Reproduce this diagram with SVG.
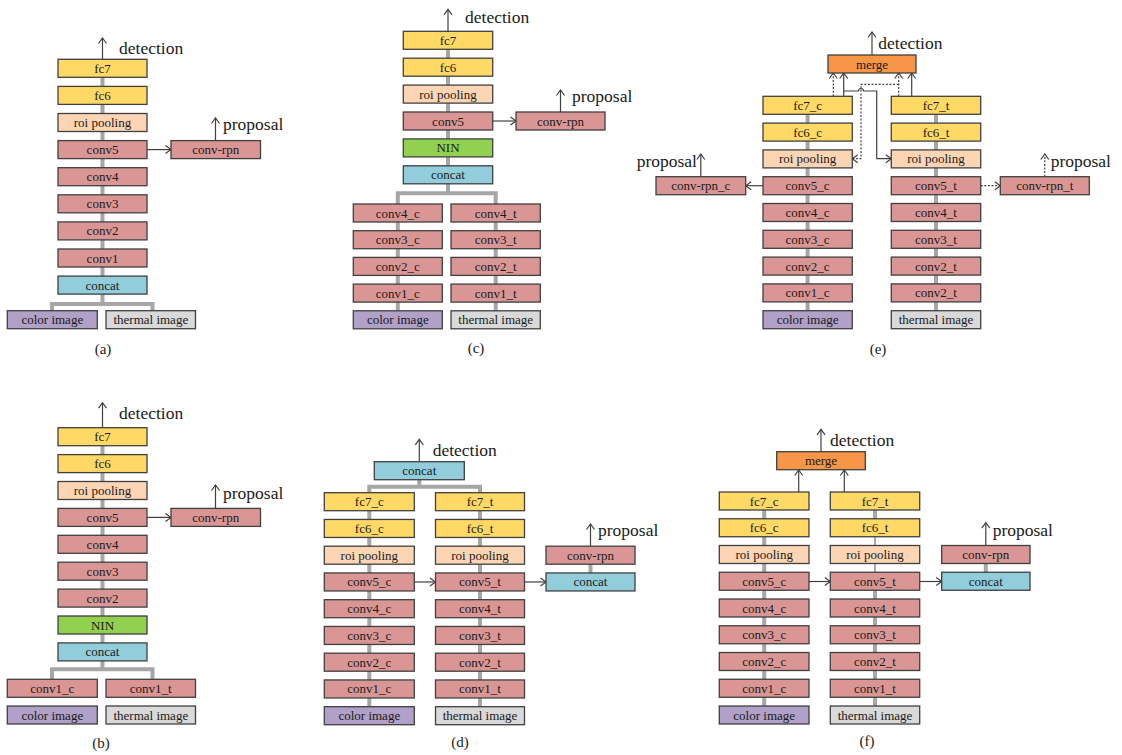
<svg xmlns="http://www.w3.org/2000/svg" width="1122" height="755" viewBox="0 0 1122 755" font-family="'Liberation Serif', 'DejaVu Serif', serif">
  <style>
    .box{stroke:#404040;stroke-width:1.3}
    .fc{fill:#FFD966}
    .roi{fill:#FCD5B4}
    .conv{fill:#DA9694}
    .cat{fill:#92CDDC}
    .nin{fill:#92D050}
    .merge{fill:#F79646}
    .col{fill:#B1A0C7}
    .thr{fill:#D9D9D9}
    text{font-family:'Liberation Serif','DejaVu Serif',serif;fill:#1a1a1a}
    .lbl{font-size:13px;text-anchor:middle}
    .big{font-size:17.5px}
    .cap{font-size:15px;text-anchor:middle}
    .trunk{stroke:#A6A6A6;stroke-width:4;fill:none}
    .thin{stroke:#555;stroke-width:1;fill:none}
    .arr{stroke:#404040;stroke-width:1.2;fill:none;marker-end:url(#ah)}
    .dot{stroke-dasharray:2 1.6}
  </style>
  <defs>
    <marker id="ah" viewBox="0 0 10 10" refX="8.5" refY="5" markerWidth="10" markerHeight="10" orient="auto" markerUnits="userSpaceOnUse">
      <path d="M3,1 L8.5,5 L3,9" fill="none" stroke="#404040" stroke-width="1.2"/>
    </marker>
  </defs>
  <rect width="1122" height="755" fill="#ffffff"/>

  <!-- connectors: gray data trunks and dark arrows -->
  <g id="connectors">
    <!-- (a) -->
    <path class="trunk" d="M102.5,68 V304 M52,311 V304 H152.5 V311"/>
    <path class="arr" d="M147,149.6 H171"/>
    <path class="arr" d="M102.5,59.3 V38"/>
    <path class="arr" d="M215.5,140.6 V118"/>
    <!-- (b) -->
    <path class="trunk" d="M102.5,436 V669.3 M52,679.3 V669.3 H152.5 V679.3"/>
    <path class="arr" d="M147,517.4 H171"/>
    <path class="arr" d="M102.5,427.7 V402.7"/>
    <path class="arr" d="M215.5,508.4 V485"/>
    <!-- (c) -->
    <path class="trunk" d="M448,40 V193.3 M397.8,315 V193.3 H495.7 V315"/>
    <path class="arr" d="M492.7,121 H516"/>
    <path class="arr" d="M448,31.3 V9.3"/>
    <path class="arr" d="M560.5,112 V90"/>
    <!-- (d) -->
    <path class="trunk" d="M419.3,470 V486.7 M369.3,715 V486.7 H480 V715"/>
    <path class="trunk" d="M590.5,555 V582"/>
    <path class="arr" d="M414.3,582 H435.5"/>
    <path class="arr" d="M524.5,582 H546"/>
    <path class="arr" d="M419.3,461.7 V439.3"/>
    <path class="arr" d="M590.5,546.2 V524"/>
    <!-- (e) -->
    <path class="trunk" d="M807.6,105 V320 M936,105 V320"/>
    <path class="arr" d="M763,185.7 H745.7"/>
    <path class="arr dot" d="M980.7,185.7 H1000.3"/>
    <path class="arr" d="M872,55 V32"/>
    <path class="arr" d="M700.8,176.7 V154"/>
    <path class="arr dot" d="M1044.8,176.7 V154"/>
    <path class="arr" d="M843.7,96.3 V73"/>
    <path class="arr dot" d="M833.3,96.3 V73"/>
    <path class="arr" d="M911.7,96.3 V73"/>
    <path class="arr dot" d="M898.7,96.3 V73"/>
    <path class="arr" d="M843.7,91 H858.5 A2.5,2.5 0 0 1 863.5,91 H876.7 V158.7 H891.3"/>
    <path class="arr dot" d="M898.7,84.3 H861 V158.7 H852.3"/>
    <!-- (f) -->
    <path class="trunk" d="M764.2,501 V715 M875,501 V528 M875,581 V715"/>
    <path class="thin" d="M875,528 V581"/>
    <path class="trunk" d="M985.8,555 V581"/>
    <path class="arr" d="M809,581.5 H830.3"/>
    <path class="arr" d="M919.7,581.5 H941.7"/>
    <path class="arr" d="M798.7,492 V470"/>
    <path class="arr" d="M844.3,492 V470"/>
    <path class="arr" d="M821,451.7 V429.3"/>
    <path class="arr" d="M985.8,545.5 V522.7"/>
  </g>

  <!-- (a) single-stream network fused at input -->
  <g id="a-fc7"><rect class="box fc" x="58" y="59.3" width="89" height="18"/><text class="lbl" x="102.5" y="72.8">fc7</text></g>
  <g id="a-fc6"><rect class="box fc" x="58" y="86.4" width="89" height="18"/><text class="lbl" x="102.5" y="99.9">fc6</text></g>
  <g id="a-roi"><rect class="box roi" x="58" y="113.5" width="89" height="18"/><text class="lbl" x="102.5" y="127">roi pooling</text></g>
  <g id="a-conv5"><rect class="box conv" x="58" y="140.6" width="89" height="18"/><text class="lbl" x="102.5" y="154.1">conv5</text></g>
  <g id="a-conv4"><rect class="box conv" x="58" y="167.7" width="89" height="18"/><text class="lbl" x="102.5" y="181.2">conv4</text></g>
  <g id="a-conv3"><rect class="box conv" x="58" y="194.8" width="89" height="18"/><text class="lbl" x="102.5" y="208.3">conv3</text></g>
  <g id="a-conv2"><rect class="box conv" x="58" y="221.9" width="89" height="18"/><text class="lbl" x="102.5" y="235.4">conv2</text></g>
  <g id="a-conv1"><rect class="box conv" x="58" y="249" width="89" height="18"/><text class="lbl" x="102.5" y="262.5">conv1</text></g>
  <g id="a-concat"><rect class="box cat" x="58" y="276.1" width="89" height="18"/><text class="lbl" x="102.5" y="289.6">concat</text></g>
  <g id="a-color"><rect class="box col" x="7.3" y="310.7" width="90" height="18"/><text class="lbl" x="52.3" y="324.2">color image</text></g>
  <g id="a-thermal"><rect class="box thr" x="106" y="310.7" width="89.5" height="18"/><text class="lbl" x="150.8" y="324.2">thermal image</text></g>
  <g id="a-rpn"><rect class="box conv" x="171" y="140.6" width="89.5" height="18"/><text class="lbl" x="215.7" y="154.1">conv-rpn</text></g>
  <g id="a-labels"><text class="big" x="119" y="54">detection</text><text class="big" x="223" y="130">proposal</text><text class="cap" x="103" y="354">(a)</text></g>

  <!-- (b) fusion after conv1 -->
  <g id="b-fc7"><rect class="box fc" x="58" y="427.7" width="89" height="18"/><text class="lbl" x="102.5" y="441.2">fc7</text></g>
  <g id="b-fc6"><rect class="box fc" x="58" y="454.6" width="89" height="18"/><text class="lbl" x="102.5" y="468.1">fc6</text></g>
  <g id="b-roi"><rect class="box roi" x="58" y="481.5" width="89" height="18"/><text class="lbl" x="102.5" y="495">roi pooling</text></g>
  <g id="b-conv5"><rect class="box conv" x="58" y="508.4" width="89" height="18"/><text class="lbl" x="102.5" y="521.9">conv5</text></g>
  <g id="b-conv4"><rect class="box conv" x="58" y="535.3" width="89" height="18"/><text class="lbl" x="102.5" y="548.8">conv4</text></g>
  <g id="b-conv3"><rect class="box conv" x="58" y="562.2" width="89" height="18"/><text class="lbl" x="102.5" y="575.7">conv3</text></g>
  <g id="b-conv2"><rect class="box conv" x="58" y="589.1" width="89" height="18"/><text class="lbl" x="102.5" y="602.6">conv2</text></g>
  <g id="b-nin"><rect class="box nin" x="58" y="616" width="89" height="18"/><text class="lbl" x="102.5" y="629.5">NIN</text></g>
  <g id="b-concat"><rect class="box cat" x="58" y="642.9" width="89" height="18"/><text class="lbl" x="102.5" y="656.4">concat</text></g>
  <g id="b-conv1c"><rect class="box conv" x="7.3" y="679.3" width="90" height="18"/><text class="lbl" x="52.3" y="692.8">conv1_c</text></g>
  <g id="b-conv1t"><rect class="box conv" x="106" y="679.3" width="89.5" height="18"/><text class="lbl" x="150.8" y="692.8">conv1_t</text></g>
  <g id="b-color"><rect class="box col" x="7.3" y="706" width="90" height="18"/><text class="lbl" x="52.3" y="719.5">color image</text></g>
  <g id="b-thermal"><rect class="box thr" x="106" y="706" width="89.5" height="18"/><text class="lbl" x="150.8" y="719.5">thermal image</text></g>
  <g id="b-rpn"><rect class="box conv" x="171" y="508.4" width="89.5" height="18"/><text class="lbl" x="215.7" y="521.9">conv-rpn</text></g>
  <g id="b-labels"><text class="big" x="119" y="419">detection</text><text class="big" x="223" y="499.3">proposal</text><text class="cap" x="101" y="747.5">(b)</text></g>

  <!-- (c) fusion after conv4 -->
  <g id="c-fc7"><rect class="box fc" x="403.3" y="31.3" width="89.4" height="18"/><text class="lbl" x="448" y="44.8">fc7</text></g>
  <g id="c-fc6"><rect class="box fc" x="403.3" y="58.2" width="89.4" height="18"/><text class="lbl" x="448" y="71.7">fc6</text></g>
  <g id="c-roi"><rect class="box roi" x="403.3" y="85.1" width="89.4" height="18"/><text class="lbl" x="448" y="98.6">roi pooling</text></g>
  <g id="c-conv5"><rect class="box conv" x="403.3" y="112" width="89.4" height="18"/><text class="lbl" x="448" y="125.5">conv5</text></g>
  <g id="c-nin"><rect class="box nin" x="403.3" y="138.9" width="89.4" height="18"/><text class="lbl" x="448" y="152.4">NIN</text></g>
  <g id="c-concat"><rect class="box cat" x="403.3" y="165.8" width="89.4" height="18"/><text class="lbl" x="448" y="179.3">concat</text></g>
  <g id="c-conv4c"><rect class="box conv" x="353.3" y="204" width="89" height="18"/><text class="lbl" x="397.8" y="217.5">conv4_c</text></g>
  <g id="c-conv3c"><rect class="box conv" x="353.3" y="230.7" width="89" height="18"/><text class="lbl" x="397.8" y="244.2">conv3_c</text></g>
  <g id="c-conv2c"><rect class="box conv" x="353.3" y="257.4" width="89" height="18"/><text class="lbl" x="397.8" y="270.9">conv2_c</text></g>
  <g id="c-conv1c"><rect class="box conv" x="353.3" y="284.1" width="89" height="18"/><text class="lbl" x="397.8" y="297.6">conv1_c</text></g>
  <g id="c-color"><rect class="box col" x="353.3" y="310.8" width="89" height="18"/><text class="lbl" x="397.8" y="324.3">color image</text></g>
  <g id="c-conv4t"><rect class="box conv" x="451" y="204" width="89.3" height="18"/><text class="lbl" x="495.7" y="217.5">conv4_t</text></g>
  <g id="c-conv3t"><rect class="box conv" x="451" y="230.7" width="89.3" height="18"/><text class="lbl" x="495.7" y="244.2">conv3_t</text></g>
  <g id="c-conv2t"><rect class="box conv" x="451" y="257.4" width="89.3" height="18"/><text class="lbl" x="495.7" y="270.9">conv2_t</text></g>
  <g id="c-conv1t"><rect class="box conv" x="451" y="284.1" width="89.3" height="18"/><text class="lbl" x="495.7" y="297.6">conv1_t</text></g>
  <g id="c-thermal"><rect class="box thr" x="451" y="310.8" width="89.3" height="18"/><text class="lbl" x="495.7" y="324.3">thermal image</text></g>
  <g id="c-rpn"><rect class="box conv" x="516" y="112" width="89" height="18"/><text class="lbl" x="560.5" y="125.5">conv-rpn</text></g>
  <g id="c-labels"><text class="big" x="465" y="23.3">detection</text><text class="big" x="572" y="101.7">proposal</text><text class="cap" x="476" y="353">(c)</text></g>

  <!-- (d) fusion after fc7 -->
  <g id="d-concat"><rect class="box cat" x="374.3" y="461.7" width="90" height="18"/><text class="lbl" x="419.3" y="475.2">concat</text></g>
  <g id="d-fc7c"><rect class="box fc" x="324.3" y="492.7" width="90" height="18"/><text class="lbl" x="369.3" y="506.2">fc7_c</text></g>
  <g id="d-fc6c"><rect class="box fc" x="324.3" y="519.45" width="90" height="18"/><text class="lbl" x="369.3" y="532.95">fc6_c</text></g>
  <g id="d-roic"><rect class="box roi" x="324.3" y="546.2" width="90" height="18"/><text class="lbl" x="369.3" y="559.7">roi pooling</text></g>
  <g id="d-conv5c"><rect class="box conv" x="324.3" y="572.95" width="90" height="18"/><text class="lbl" x="369.3" y="586.45">conv5_c</text></g>
  <g id="d-conv4c"><rect class="box conv" x="324.3" y="599.7" width="90" height="18"/><text class="lbl" x="369.3" y="613.2">conv4_c</text></g>
  <g id="d-conv3c"><rect class="box conv" x="324.3" y="626.45" width="90" height="18"/><text class="lbl" x="369.3" y="639.95">conv3_c</text></g>
  <g id="d-conv2c"><rect class="box conv" x="324.3" y="653.2" width="90" height="18"/><text class="lbl" x="369.3" y="666.7">conv2_c</text></g>
  <g id="d-conv1c"><rect class="box conv" x="324.3" y="679.95" width="90" height="18"/><text class="lbl" x="369.3" y="693.45">conv1_c</text></g>
  <g id="d-color"><rect class="box col" x="324.3" y="706.7" width="90" height="18"/><text class="lbl" x="369.3" y="720.2">color image</text></g>
  <g id="d-fc7t"><rect class="box fc" x="435.5" y="492.7" width="89" height="18"/><text class="lbl" x="480" y="506.2">fc7_t</text></g>
  <g id="d-fc6t"><rect class="box fc" x="435.5" y="519.45" width="89" height="18"/><text class="lbl" x="480" y="532.95">fc6_t</text></g>
  <g id="d-roit"><rect class="box roi" x="435.5" y="546.2" width="89" height="18"/><text class="lbl" x="480" y="559.7">roi pooling</text></g>
  <g id="d-conv5t"><rect class="box conv" x="435.5" y="572.95" width="89" height="18"/><text class="lbl" x="480" y="586.45">conv5_t</text></g>
  <g id="d-conv4t"><rect class="box conv" x="435.5" y="599.7" width="89" height="18"/><text class="lbl" x="480" y="613.2">conv4_t</text></g>
  <g id="d-conv3t"><rect class="box conv" x="435.5" y="626.45" width="89" height="18"/><text class="lbl" x="480" y="639.95">conv3_t</text></g>
  <g id="d-conv2t"><rect class="box conv" x="435.5" y="653.2" width="89" height="18"/><text class="lbl" x="480" y="666.7">conv2_t</text></g>
  <g id="d-conv1t"><rect class="box conv" x="435.5" y="679.95" width="89" height="18"/><text class="lbl" x="480" y="693.45">conv1_t</text></g>
  <g id="d-thermal"><rect class="box thr" x="435.5" y="706.7" width="89" height="18"/><text class="lbl" x="480" y="720.2">thermal image</text></g>
  <g id="d-rpn"><rect class="box conv" x="546" y="546.2" width="89" height="18"/><text class="lbl" x="590.5" y="559.7">conv-rpn</text></g>
  <g id="d-rpncat"><rect class="box cat" x="546" y="572.95" width="89" height="18"/><text class="lbl" x="590.5" y="586.45">concat</text></g>
  <g id="d-labels"><text class="big" x="432.7" y="456">detection</text><text class="big" x="598" y="536">proposal</text><text class="cap" x="460" y="747">(d)</text></g>

  <!-- (e) two streams merged at score level -->
  <g id="e-merge"><rect class="box merge" x="828" y="55" width="88" height="18"/><text class="lbl" x="872" y="68.5">merge</text></g>
  <g id="e-fc7c"><rect class="box fc" x="763" y="96.3" width="89.3" height="18"/><text class="lbl" x="807.6" y="109.8">fc7_c</text></g>
  <g id="e-fc6c"><rect class="box fc" x="763" y="123.1" width="89.3" height="18"/><text class="lbl" x="807.6" y="136.6">fc6_c</text></g>
  <g id="e-roic"><rect class="box roi" x="763" y="149.9" width="89.3" height="18"/><text class="lbl" x="807.6" y="163.4">roi pooling</text></g>
  <g id="e-conv5c"><rect class="box conv" x="763" y="176.7" width="89.3" height="18"/><text class="lbl" x="807.6" y="190.2">conv5_c</text></g>
  <g id="e-conv4c"><rect class="box conv" x="763" y="203.5" width="89.3" height="18"/><text class="lbl" x="807.6" y="217">conv4_c</text></g>
  <g id="e-conv3c"><rect class="box conv" x="763" y="230.3" width="89.3" height="18"/><text class="lbl" x="807.6" y="243.8">conv3_c</text></g>
  <g id="e-conv2c"><rect class="box conv" x="763" y="257.1" width="89.3" height="18"/><text class="lbl" x="807.6" y="270.6">conv2_c</text></g>
  <g id="e-conv1c"><rect class="box conv" x="763" y="283.9" width="89.3" height="18"/><text class="lbl" x="807.6" y="297.4">conv1_c</text></g>
  <g id="e-color"><rect class="box col" x="763" y="310.7" width="89.3" height="18"/><text class="lbl" x="807.6" y="324.2">color image</text></g>
  <g id="e-fc7t"><rect class="box fc" x="891.3" y="96.3" width="89.4" height="18"/><text class="lbl" x="936" y="109.8">fc7_t</text></g>
  <g id="e-fc6t"><rect class="box fc" x="891.3" y="123.1" width="89.4" height="18"/><text class="lbl" x="936" y="136.6">fc6_t</text></g>
  <g id="e-roit"><rect class="box roi" x="891.3" y="149.9" width="89.4" height="18"/><text class="lbl" x="936" y="163.4">roi pooling</text></g>
  <g id="e-conv5t"><rect class="box conv" x="891.3" y="176.7" width="89.4" height="18"/><text class="lbl" x="936" y="190.2">conv5_t</text></g>
  <g id="e-conv4t"><rect class="box conv" x="891.3" y="203.5" width="89.4" height="18"/><text class="lbl" x="936" y="217">conv4_t</text></g>
  <g id="e-conv3t"><rect class="box conv" x="891.3" y="230.3" width="89.4" height="18"/><text class="lbl" x="936" y="243.8">conv3_t</text></g>
  <g id="e-conv2t"><rect class="box conv" x="891.3" y="257.1" width="89.4" height="18"/><text class="lbl" x="936" y="270.6">conv2_t</text></g>
  <g id="e-conv1t"><rect class="box conv" x="891.3" y="283.9" width="89.4" height="18"/><text class="lbl" x="936" y="297.4">conv2_t</text></g>
  <g id="e-thermal"><rect class="box thr" x="891.3" y="310.7" width="89.4" height="18"/><text class="lbl" x="936" y="324.2">thermal image</text></g>
  <g id="e-rpnc"><rect class="box conv" x="656" y="176.7" width="89.7" height="18"/><text class="lbl" x="700.8" y="190.2">conv-rpn_c</text></g>
  <g id="e-rpnt"><rect class="box conv" x="1000.3" y="176.7" width="89" height="18"/><text class="lbl" x="1044.8" y="190.2">conv-rpn_t</text></g>
  <g id="e-labels"><text class="big" x="878.3" y="49.3">detection</text><text class="big" x="697" y="166.7" text-anchor="end">proposal</text><text class="big" x="1050.7" y="166.7">proposal</text><text class="cap" x="878" y="354">(e)</text></g>

  <!-- (f) shared proposals, score-level merge -->
  <g id="f-merge"><rect class="box merge" x="776.7" y="451.7" width="88.6" height="18"/><text class="lbl" x="821" y="465.2">merge</text></g>
  <g id="f-fc7c"><rect class="box fc" x="719.3" y="492" width="89.7" height="18"/><text class="lbl" x="764.2" y="505.5">fc7_c</text></g>
  <g id="f-fc6c"><rect class="box fc" x="719.3" y="518.75" width="89.7" height="18"/><text class="lbl" x="764.2" y="532.25">fc6_c</text></g>
  <g id="f-roic"><rect class="box roi" x="719.3" y="545.5" width="89.7" height="18"/><text class="lbl" x="764.2" y="559">roi pooling</text></g>
  <g id="f-conv5c"><rect class="box conv" x="719.3" y="572.25" width="89.7" height="18"/><text class="lbl" x="764.2" y="585.75">conv5_c</text></g>
  <g id="f-conv4c"><rect class="box conv" x="719.3" y="599" width="89.7" height="18"/><text class="lbl" x="764.2" y="612.5">conv4_c</text></g>
  <g id="f-conv3c"><rect class="box conv" x="719.3" y="625.75" width="89.7" height="18"/><text class="lbl" x="764.2" y="639.25">conv3_c</text></g>
  <g id="f-conv2c"><rect class="box conv" x="719.3" y="652.5" width="89.7" height="18"/><text class="lbl" x="764.2" y="666">conv2_c</text></g>
  <g id="f-conv1c"><rect class="box conv" x="719.3" y="679.25" width="89.7" height="18"/><text class="lbl" x="764.2" y="692.75">conv1_c</text></g>
  <g id="f-color"><rect class="box col" x="719.3" y="706" width="89.7" height="18"/><text class="lbl" x="764.2" y="719.5">color image</text></g>
  <g id="f-fc7t"><rect class="box fc" x="830.3" y="492" width="89.4" height="18"/><text class="lbl" x="875" y="505.5">fc7_t</text></g>
  <g id="f-fc6t"><rect class="box fc" x="830.3" y="518.75" width="89.4" height="18"/><text class="lbl" x="875" y="532.25">fc6_t</text></g>
  <g id="f-roit"><rect class="box roi" x="830.3" y="545.5" width="89.4" height="18"/><text class="lbl" x="875" y="559">roi pooling</text></g>
  <g id="f-conv5t"><rect class="box conv" x="830.3" y="572.25" width="89.4" height="18"/><text class="lbl" x="875" y="585.75">conv5_t</text></g>
  <g id="f-conv4t"><rect class="box conv" x="830.3" y="599" width="89.4" height="18"/><text class="lbl" x="875" y="612.5">conv4_t</text></g>
  <g id="f-conv3t"><rect class="box conv" x="830.3" y="625.75" width="89.4" height="18"/><text class="lbl" x="875" y="639.25">conv3_t</text></g>
  <g id="f-conv2t"><rect class="box conv" x="830.3" y="652.5" width="89.4" height="18"/><text class="lbl" x="875" y="666">conv2_t</text></g>
  <g id="f-conv1t"><rect class="box conv" x="830.3" y="679.25" width="89.4" height="18"/><text class="lbl" x="875" y="692.75">conv1_t</text></g>
  <g id="f-thermal"><rect class="box thr" x="830.3" y="706" width="89.4" height="18"/><text class="lbl" x="875" y="719.5">thermal image</text></g>
  <g id="f-rpn"><rect class="box conv" x="941.7" y="545.5" width="88.3" height="18"/><text class="lbl" x="985.8" y="559">conv-rpn</text></g>
  <g id="f-rpncat"><rect class="box cat" x="941.7" y="572.25" width="88.3" height="18"/><text class="lbl" x="985.8" y="585.75">concat</text></g>
  <g id="f-labels"><text class="big" x="830" y="446">detection</text><text class="big" x="992.7" y="536">proposal</text><text class="cap" x="867" y="746">(f)</text></g>
</svg>
